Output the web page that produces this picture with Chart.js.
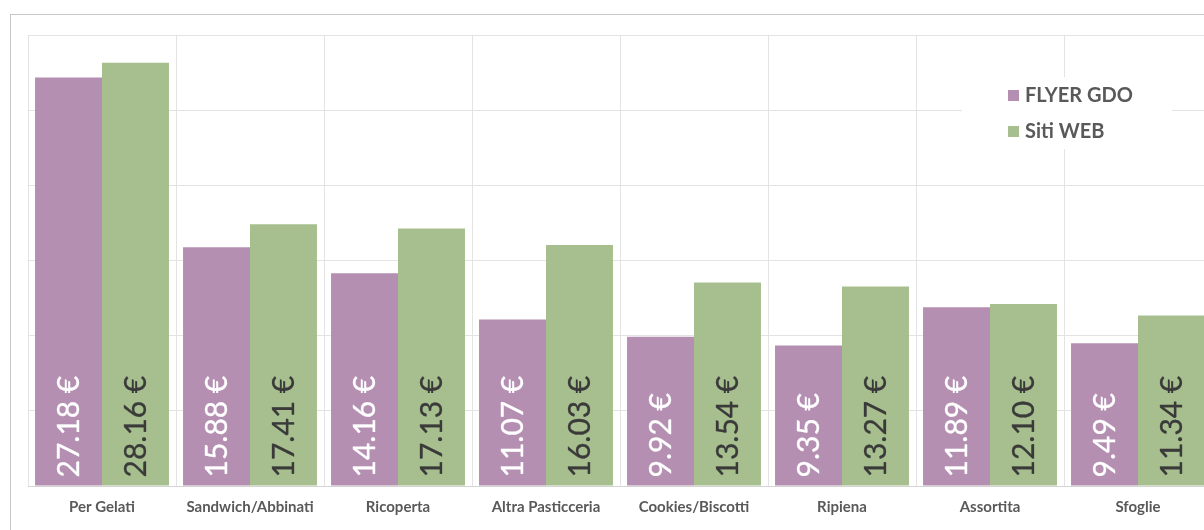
<!DOCTYPE html>
<html>
<head>
<meta charset="utf-8">
<script src="https://cdn.jsdelivr.net/npm/chart.js@4.4.0/dist/chart.umd.min.js"></script>
<style>
    html, body { margin: 0; padding: 0; background: #fff; overflow: hidden; width: 1204px; height: 530px; }
    #frame { position: absolute; left: 10px; top: 14px; width: 1260px; height: 560px; border: 1px solid #c8c8c8; background: #fff; }
    #frame canvas { position: absolute; left: 0; top: 0; }
</style>
</head>
<body>
<div id="frame"><canvas id="chart" width="1232" height="515"></canvas></div>
<script>
let categories = ['Per Gelati', 'Sandwich/Abbinati', 'Ricoperta', 'Altra Pasticceria', 'Cookies/Biscotti', 'Ripiena', 'Assortita', 'Sfoglie'];
let flyerGdo = [27.18, 15.88, 14.16, 11.07, 9.92, 9.35, 11.89, 9.49];
let sitiWeb = [28.16, 17.41, 17.13, 16.03, 13.54, 13.27, 12.10, 11.34];
let seriesNames = ['FLYER GDO', 'Siti WEB'];

let colors = {
    'flyer':     'rgb(180,143,178)',
    'web':       'rgb(167,191,142)',
    'flyerText': '#ffffff',
    'webText':   '#3a3a3a',
    'grid':      '#e3e3e3',
    'label':     '#595959'
}

// rotated value labels sitting on the bar base
let valueLabels = {
    id: 'valueLabels',
    afterDatasetsDraw(chart) {
        let ctx = chart.ctx;
        chart.data.datasets.forEach((ds, i) => {
            let meta = chart.getDatasetMeta(i);
            meta.data.forEach((bar, j) => {
                let txt = ds.data[j].toFixed(2) + ' €';
                ctx.save();
                ctx.translate(bar.x, bar.base - 8);
                ctx.rotate(-Math.PI / 2);
                ctx.font = '30px Lato';
                ctx.fillStyle = ds.textColor;
                ctx.strokeStyle = ds.textColor;
                ctx.lineWidth = 0.3;
                ctx.textAlign = 'left';
                ctx.textBaseline = 'middle';
                ctx.fillText(txt, 0, 1);
                ctx.strokeText(txt, 0, 1);
                ctx.restore();
            });
        });
    }
}

// legend box inside the plot, top right
let boxLegend = {
    id: 'boxLegend',
    afterDraw(chart) {
        let ctx = chart.ctx;
        ctx.save();
        ctx.fillStyle = '#fff';
        ctx.fillRect(951, 62, 210, 72);
        chart.data.datasets.forEach((ds, i) => {
            let y = 80 + i * 36;
            ctx.fillStyle = ds.backgroundColor;
            ctx.fillRect(997, y - 5, 11, 11);
            ctx.fillStyle = colors.label;
            ctx.font = 'bold 20px Lato';
            ctx.textAlign = 'left';
            ctx.textBaseline = 'middle';
            ctx.fillText(ds.label, 1014, y + 1);
        });
        ctx.restore();
    }
}

let chart = new Chart(document.getElementById('chart').getContext('2d'), {
    type: 'bar',
    data: {
        labels: categories,
        datasets: [
            { label: seriesNames[0], data: flyerGdo, backgroundColor: colors.flyer, textColor: colors.flyerText },
            { label: seriesNames[1], data: sitiWeb, backgroundColor: colors.web, textColor: colors.webText }
        ]
    },
    options: {
        responsive: false,
        animation: false,
        layout: { padding: { left: 17, top: 20, right: 31, bottom: 0 } },
        datasets: { bar: { categoryPercentage: 0.905, barPercentage: 1.0 } },
        plugins: { legend: { display: false }, tooltip: { enabled: false } },
        scales: {
            x: {
                grid: { color: colors.grid, drawTicks: false },
                border: { color: '#d4d4d4' },
                ticks: { color: colors.label, font: { family: 'Lato', size: 15, weight: 'bold' }, padding: 12, maxRotation: 0, autoSkip: false },
                afterFit: (s) => { s.height = 44; }
            },
            y: {
                min: 0, max: 30,
                grid: { color: colors.grid, drawTicks: false },
                border: { display: false },
                ticks: { display: false, stepSize: 5 },
                afterFit: (s) => { s.width = 0; }
            }
        }
    },
    plugins: [valueLabels, boxLegend]
});
</script>
</body>
</html>
